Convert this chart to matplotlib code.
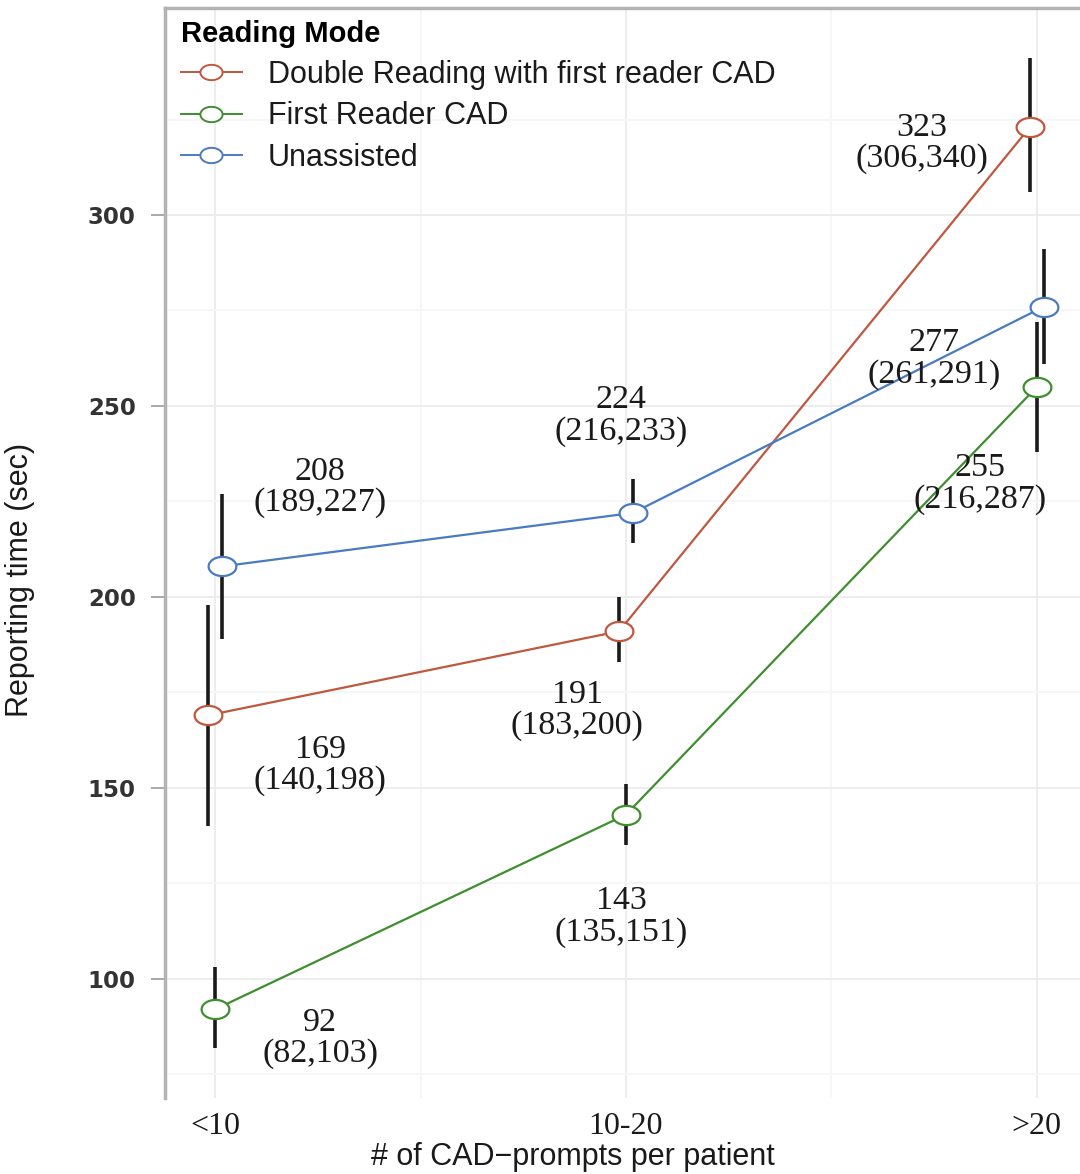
import numpy as np
import matplotlib
matplotlib.use("Agg")
import matplotlib.pyplot as plt
from matplotlib.lines import Line2D

# data
categories = ["<10", "10-20", ">20"]
modes = ["Double Reading with first reader CAD", "First Reader CAD", "Unassisted"]

double_mean = [169, 191, 323]
double_lo = [140, 183, 306]
double_hi = [198, 200, 341]

first_mean = [92, 143, 255]
first_lo = [82, 135, 238]
first_hi = [103, 151, 272]

unassisted_mean = [208, 222, 276]
unassisted_lo = [189, 214, 261]
unassisted_hi = [227, 231, 291]

double_labels = ["169\n(140,198)", "191\n(183,200)", "323\n(306,340)"]
first_labels = ["92\n(82,103)", "143\n(135,151)", "255\n(216,287)"]
unassisted_labels = ["208\n(189,227)", "224\n(216,233)", "277\n(261,291)"]

yticks = [100, 150, 200, 250, 300]

# styling / layout
colors = ["#C0583F", "#3F8E2F", "#4A7BC2"]
dodge = [-0.017, 0.0, 0.017]
# label offsets in pixels relative to each point
double_off = [(112, -50), (-42, -79), (-108, -16)]
first_off = [(105, -29), (-5, -102), (-57, -97)]
unassisted_off = [(98, 79), (-12, 97), (-110, -52)]

t = np.linspace(0, 2 * np.pi, 60)
ellipse = list(zip(1.45 * np.cos(t), np.sin(t)))

fig = plt.figure(figsize=(10.8, 11.74), dpi=100)
ax = fig.add_axes([165 / 1080, 1 - 1098 / 1174, 915 / 1080, 1090 / 1174])

x = np.arange(1, len(categories) + 1)
series = [
    (double_mean, double_lo, double_hi, double_labels, double_off),
    (first_mean, first_lo, first_hi, first_labels, first_off),
    (unassisted_mean, unassisted_lo, unassisted_hi, unassisted_labels, unassisted_off),
]

for i, (m, lo, hi, labs, offs) in enumerate(series):
    xs = x + dodge[i]
    m = np.array(m)
    ax.plot(xs, m, color=colors[i], lw=1.6, zorder=2)
    ax.vlines(xs, lo, hi, color="#1a1a1a", lw=2.6, zorder=3)
    ax.plot(xs, m, ls="none", marker=ellipse, ms=20, mfc="white",
            mec=colors[i], mew=1.6, zorder=4)
    for xi, yi, lab, off in zip(xs, m, labs, offs):
        ax.annotate(lab, (xi, yi), xytext=off, textcoords="offset pixels",
                    ha="center", va="center", multialignment="center",
                    fontsize=24.5, family="Liberation Serif", color="#1a1a1a",
                    linespacing=1.03, zorder=5)

ax.set_xlim(0.878, 3.105)
ax.set_ylim(68.8, 354.2)

ax.set_xticks(x)
ax.set_xticklabels(categories, family="Liberation Serif", fontsize=23, color="#1a1a1a")
ax.set_xticks([1.5, 2.5], minor=True)
ax.set_yticks(yticks)
ax.set_yticklabels([str(v) for v in yticks], family="DejaVu Sans", fontweight="bold",
                   fontsize=16.5, color="#333333")
ax.set_yticks(np.arange(75, 351, 50), minor=True)
ax.tick_params(axis="x", which="both", length=0, pad=10)
ax.tick_params(axis="y", which="major", length=10, width=1.2, color="#999999", pad=11)
ax.tick_params(axis="y", which="minor", length=0)

ax.grid(True, which="major", color="#ececec", lw=1.3, zorder=0)
ax.grid(True, which="minor", color="#f6f6f6", lw=1.3, zorder=0)
ax.set_axisbelow(True)

for s in ["right", "bottom"]:
    ax.spines[s].set_visible(False)
for s in ["left", "top"]:
    ax.spines[s].set_color("#b3b3b3")
    ax.spines[s].set_linewidth(2.5)

ax.set_ylabel("Reporting time (sec)", family="Liberation Sans",
              fontsize=22, color="#1a1a1a", labelpad=14)
ax.set_xlabel("# of CAD\u2212prompts per patient", family="Liberation Sans",
              fontsize=22, color="#1a1a1a", labelpad=0)
ax.xaxis.set_label_coords(0.446, -0.040)
ax.yaxis.set_label_coords(-0.142, 0.475)

handles = [Line2D([], [], color=c, lw=1.4, marker=ellipse, ms=16, mfc="white", mec=c, mew=1.4)
           for c in colors]
leg = ax.legend(handles, modes, loc="upper left", bbox_to_anchor=(0.004, 1.0),
                title="Reading Mode", frameon=False, alignment="left",
                prop={"family": "Liberation Sans", "size": 22},
                title_fontproperties={"family": "Liberation Sans", "weight": "bold", "size": 21},
                handlelength=2.0, handletextpad=0.85, labelspacing=0.38, borderaxespad=0)
for txt in leg.get_texts():
    txt.set_color("#1a1a1a")

fig.savefig("out.png", dpi=100, facecolor="white")
